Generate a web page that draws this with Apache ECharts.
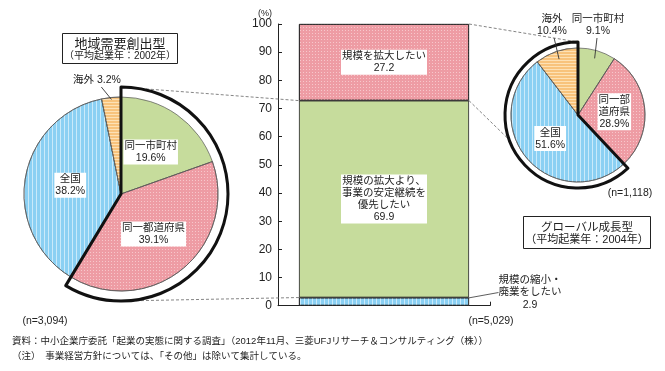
<!DOCTYPE html>
<html><head><meta charset="utf-8">
<script src="https://cdn.jsdelivr.net/npm/echarts@6/dist/echarts.min.js"></script>
<style>html,body{margin:0;padding:0;background:#fff}#c{width:665px;height:371px}</style>
</head><body><div id="c"></div>
<script>
// ---- data ----
const pieNames = ['同一市町村', '同一都道府県', '全国', '海外'];
const leftPieValues = [19.6, 39.1, 38.2, 3.2];
const rightPieValues = [9.1, 28.9, 51.6, 10.4];
const rightPieLabels = ['同一市町村', '同一部\n道府県', '全国', '海外'];
const barCategories = ['事業経営方針'];
const barNames = ['規模の縮小・\n廃業をしたい', '規模の拡大より、\n事業の安定継続を\n優先したい', '規模を拡大したい'];
const barValues = [2.9, 69.9, 27.2];
const yMin = 0, yMax = 100, yInterval = 10;
const leftTitle = ['地域需要創出型', '（平均起業年：2002年）'];
const rightTitle = ['グローバル成長型', '（平均起業年：2004年）'];
const nLabels = ['(n=3,094)', '(n=5,029)', '(n=1,118)'];
const notes = ['資料：中小企業庁委託「起業の実態に関する調査」（2012年11月、三菱UFJリサーチ＆コンサルティング（株））',
               '（注）　事業経営方針については、「その他」は除いて集計している。'];

// ---- styles ----
const FF = "'Liberation Sans','Noto Sans CJK JP',sans-serif";
const GREEN = '#c6dc9c', PINK = '#ee9ca4', BLUE = '#8bd0f3', ORANGE = '#f8c37c';
const decals = {
  pink: {symbol: 'rect', symbolSize: 1, dashArrayX: [1, 2], dashArrayY: [1, 2], color: 'rgba(255,235,235,0.55)'},
  blue: {symbol: 'rect', symbolSize: 1, dashArrayX: [1, 3], dashArrayY: [10, 0], color: 'rgba(255,255,255,0.55)'},
  orange: {symbol: 'rect', symbolSize: 1, dashArrayX: [10, 0], dashArrayY: [1, 2], color: 'rgba(255,238,205,0.7)'}
};
const sliceStyle = [
  {color: GREEN}, {color: PINK, decal: decals.pink}, {color: BLUE, decal: decals.blue}, {color: ORANGE, decal: decals.orange}
];
const barStyle = [
  {color: BLUE, decal: decals.blue}, {color: GREEN}, {color: PINK, decal: decals.pink}
];
const LEFT_C = [121, 194], LEFT_R = 97, LEFT_OUT = 107;
const RIGHT_C = [578, 115], RIGHT_R = 67, RIGHT_OUT = 73;
const BAR_W = 170;
const inLabel = {show: true, position: 'inside', color: '#222', fontSize: 10.5, lineHeight: 12,
  fontFamily: FF, backgroundColor: '#fff', padding: [1, 1, 0, 1]};

function pieData(values, labels, outsideIdx, outFmt) {
  return values.map((v, i) => {
    const o = {name: pieNames[i], value: v, itemStyle: Object.assign({borderColor: '#555', borderWidth: 0.7}, sliceStyle[i])};
    if (outsideIdx.includes(i)) {
      o.label = {show: true, position: 'outside', backgroundColor: 'transparent', padding: 0, width: 60, overflow: 'none',
        formatter: outFmt(labels[i], v), align: 'center', lineHeight: 12.5, fontSize: 10.5, color: '#222', fontFamily: FF};
      o.labelLine = {show: false};
    } else {
      o.label = Object.assign({}, inLabel, {formatter: labels[i] + '\n' + v + '%'});
      o.labelLine = {show: false};
    }
    return o;
  });
}
function outlineData(values, from, to) {
  let inSum = 0, outSum = 0, before = 0;
  values.forEach((v, i) => { if (i >= from && i <= to) inSum += v; else if (i < from) before += v; else outSum += v; });
  const d = [];
  if (before) d.push({value: before, itemStyle: {color: 'rgba(0,0,0,0)', borderWidth: 0}});
  d.push({value: inSum, itemStyle: {color: 'rgba(0,0,0,0)', borderColor: '#111', borderWidth: 3}});
  if (outSum) d.push({value: outSum, itemStyle: {color: 'rgba(0,0,0,0)', borderWidth: 0}});
  return d;
}
// offsets (relative to pie centre) for labels that sit outside the pie: [dx, dy, halfHeight]
const leftOutsidePos = {3: [-24, -114, 6]};
const rightOutsidePos = {0: [20, -90, 12], 3: [-26, -90, 12]};
function pieLabelLayout(c, pos) {
  return p => {
    const o = pos[p.dataIndex];
    if (!o) return {};
    return {x: c[0] + o[0], y: c[1] + o[1], align: 'center', verticalAlign: 'middle'};
  };
}
function midAngle(values, idx) {
  const tot = values.reduce((a, b) => a + b, 0);
  let s = 0; for (let i = 0; i < idx; i++) s += values[i];
  return (s + values[idx] / 2) / tot * 360;
}
function onCircle(c, r, deg) { const a = deg * Math.PI / 180; return [c[0] + r * Math.sin(a), c[1] - r * Math.cos(a)]; }
function leaderData(values, c, r, pos) {
  const out = [];
  for (const k in pos) {
    const i = Number(k), o = pos[k];
    const p = onCircle(c, r, midAngle(values, i));
    const q = [c[0] + o[0] + (p[0] - c[0] - o[0]) * 0.3, c[1] + o[1] + o[2] + 1];
    out.push([{x: p[0], y: p[1]}, {x: q[0], y: q[1]}]);
  }
  return out;
}

const chart = echarts.init(document.getElementById('c'), null, {renderer: 'canvas'});
const barSeries = barValues.map((v, i) => {
  const s = {
    type: 'bar', name: barNames[i], stack: 'a', barWidth: BAR_W, data: [v],
    itemStyle: Object.assign({borderColor: '#222', borderWidth: 0.8}, barStyle[i]),
    label: Object.assign({}, inLabel, {formatter: p => p.seriesName + '\n' + p.value}),
    z: 2
  };
  if (i === 0) {
    s.z = 5;
    s.label = {show: true, position: 'right', color: '#222', fontSize: 10.5, lineHeight: 12.5, fontFamily: FF,
      align: 'center', formatter: p => p.seriesName + '\n' + p.value};
    s.labelLayout = p => ({x: p.rect.x + p.rect.width + 61, y: p.rect.y - 5, align: 'center', verticalAlign: 'middle'});
    s.labelLine = {show: true, lineStyle: {color: '#333', width: 0.8}};
    s.markLine = {silent: true, symbol: ['none', 'none'], label: {show: false},
      lineStyle: {color: '#333', width: 0.9, type: 'solid'},
      data: leaderData(leftPieValues, LEFT_C, LEFT_R - 2, leftOutsidePos)
        .concat(leaderData(rightPieValues, RIGHT_C, RIGHT_R - 8, rightOutsidePos))};
  }
  return s;
});

const option = {
  animation: false,
  backgroundColor: '#fff',
  textStyle: {fontFamily: FF},
  grid: {left: 278, top: 24, width: 212, height: 281.7},
  xAxis: {type: 'category', data: barCategories,
    axisLine: {lineStyle: {color: '#222', width: 1}},
    axisTick: {show: true, inside: true, length: 4, lineStyle: {color: '#222'}},
    axisLabel: {show: false}},
  yAxis: {type: 'value', min: yMin, max: yMax, interval: yInterval,
    name: '(%)', nameLocation: 'end', nameGap: 5,
    nameTextStyle: {fontSize: 9, color: '#222', align: 'right', padding: [0, 6, 0, 0], fontFamily: FF},
    axisLine: {show: true, lineStyle: {color: '#222', width: 1}},
    axisTick: {show: true, inside: true, length: 4, lineStyle: {color: '#222'}},
    axisLabel: {fontSize: 12, color: '#222', margin: 6, fontFamily: FF},
    splitLine: {show: false}},
  series: [
    ...barSeries,
    {type: 'pie', center: LEFT_C, radius: [0, LEFT_R], startAngle: 90, clockwise: true,
      data: pieData(leftPieValues, pieNames, [3], (n, v) => n + ' ' + v + '%'),
      labelLayout: pieLabelLayout(LEFT_C, leftOutsidePos), z: 2},
    {type: 'pie', center: RIGHT_C, radius: [0, RIGHT_R], startAngle: 90, clockwise: true,
      data: pieData(rightPieValues, rightPieLabels, [0, 3], (n, v) => n + '\n' + v + '%'),
      labelLayout: pieLabelLayout(RIGHT_C, rightOutsidePos), z: 2},
    {type: 'pie', center: LEFT_C, radius: [0, LEFT_OUT], startAngle: 90, silent: true, label: {show: false},
      labelLine: {show: false}, data: outlineData(leftPieValues, 0, 1), z: 4},
    {type: 'pie', center: RIGHT_C, radius: [0, RIGHT_OUT], startAngle: 90, silent: true, label: {show: false},
      labelLine: {show: false}, data: outlineData(rightPieValues, 2, 3), z: 4}
  ]
};
chart.setOption(option);

// ---- decorations ----
const bx = chart.convertToPixel({xAxisIndex: 0}, barCategories[0]);
const yp = v => chart.convertToPixel({yAxisIndex: 0}, v);
const c1 = barValues[0], c2 = barValues[0] + barValues[1], c3 = c2 + barValues[2];
const lx = bx - BAR_W / 2, rx = bx + BAR_W / 2;
let gid = 0;
function line(p1, p2) {
  return {type: 'line', id: 'ln' + (gid++), silent: true, z: 1,
    shape: {x1: p1[0], y1: p1[1], x2: p2[0], y2: p2[1]},
    style: {stroke: '#666', lineWidth: 0.8, lineDash: [3, 2], fill: null}};
}
function txt(t, x, y, size, align) {
  return {type: 'text', id: 'tx' + (gid++), silent: true, z: 5, style: {text: t, x: x, y: y, fill: '#222', fontSize: size, fontFamily: FF,
    align: align || 'center', verticalAlign: 'middle'}};
}
const graphic = [
  line(onCircle(LEFT_C, LEFT_OUT, 0), [lx, yp(c2)]),
  line(onCircle(LEFT_C, LEFT_OUT, 180), [lx, yp(c1)]),
  line([rx, yp(c3)], onCircle(RIGHT_C, RIGHT_OUT, 0)),
  line([rx, yp(c2)], onCircle(RIGHT_C, RIGHT_OUT, 250)),
  {type: 'rect', id: 'bx1', silent: true, z: 5, shape: {x: 62.5, y: 33.5, width: 115, height: 30}, style: {fill: '#fff', stroke: '#222', lineWidth: 1}},
  txt(leftTitle[0], 120, 44.5, 13),
  txt(leftTitle[1], 120, 56.5, 10),
  {type: 'rect', id: 'bx2', silent: true, z: 5, shape: {x: 523.5, y: 216.5, width: 127, height: 32}, style: {fill: '#fff', stroke: '#222', lineWidth: 1}},
  txt(rightTitle[0], 587, 227.5, 11.5),
  txt(rightTitle[1], 587, 240, 11),
  txt(nLabels[0], 45, 321.5, 10.5),
  txt(nLabels[1], 491, 321.5, 10.5),
  txt(nLabels[2], 630, 193, 10.5),
  txt(notes[0], 12, 341, 9.5, 'left'),
  txt(notes[1], 12, 356, 9.5, 'left')
];
chart.setOption({graphic: {elements: graphic}});
</script></body></html>
